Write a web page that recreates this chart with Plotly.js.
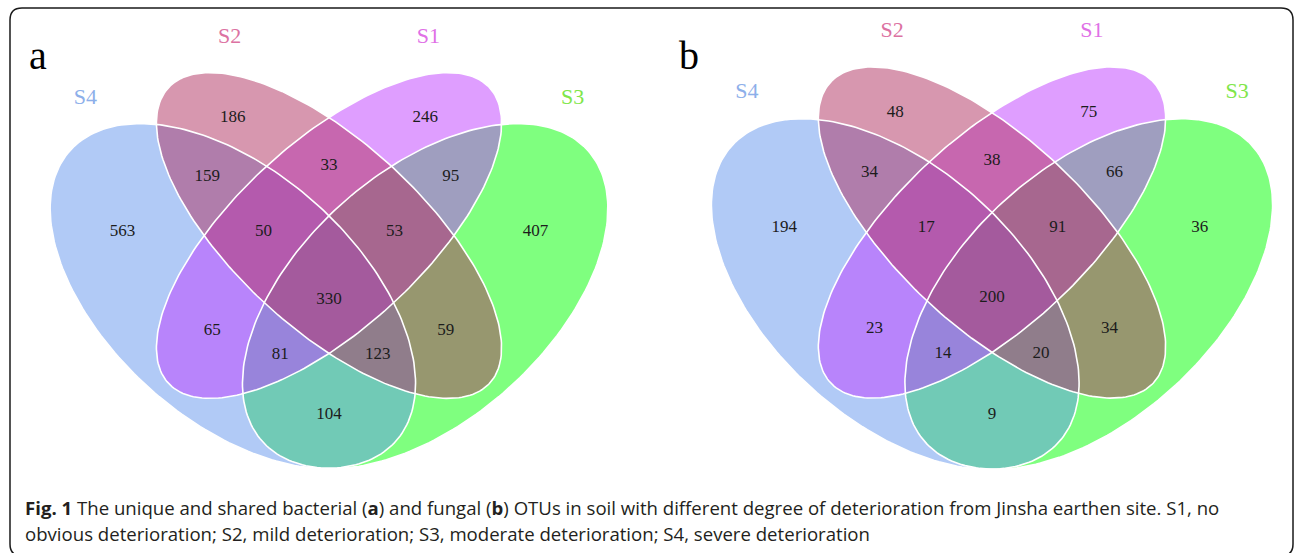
<!DOCTYPE html>
<html><head><meta charset="utf-8">
<script src="https://cdn.plot.ly/plotly-3.0.1.min.js"></script>
<style>html,body{margin:0;padding:0;background:#fff}</style>
</head><body><div id="chart" style="width:1295px;height:553px"></div>
<script>
// ---------- DATA ----------
const setNames = ["S1", "S2", "S3", "S4"];
const regionKeys = ["S2", "S1", "S2&S4", "S1&S2", "S1&S3", "S4", "S1&S2&S4", "S1&S2&S3",
                    "S3", "S1&S2&S3&S4", "S1&S4", "S2&S3", "S1&S3&S4", "S2&S3&S4", "S3&S4"];
const bacterialCounts = [186, 246, 159, 33, 95, 563, 50, 53, 407, 330, 65, 59, 81, 123, 104];
const fungalCounts    = [48, 75, 34, 38, 66, 194, 17, 91, 36, 200, 23, 34, 14, 20, 9];
const panelLetters = ["a", "b"];
const captionLine1 = "<b>Fig. 1</b> The unique and shared bacterial (<b>a</b>) and fungal (<b>b</b>) OTUs in soil with different degree of deterioration from Jinsha earthen site. S1, no";
const captionLine2 = "obvious deterioration; S2, mild deterioration; S3, moderate deterioration; S4, severe deterioration";

// ---------- LAYOUT CONSTANTS (standard 4-set Venn geometry, unit space) ----------
const W = 1295, H = 553;
const ellipses = { // drawing order: S3, S4, S1, S2
  S3: {cx: 0.65, cy: 0.47, a: 0.35, b: 0.20, rot: 45,  base: "0,255,0"},
  S4: {cx: 0.35, cy: 0.47, a: 0.35, b: 0.20, rot: 135, base: "100,149,237"},
  S1: {cx: 0.50, cy: 0.57, a: 0.35, b: 0.15, rot: 45,  base: "191,62,255"},
  S2: {cx: 0.50, cy: 0.57, a: 0.35, b: 0.15, rot: 135, base: "176,48,96"}
};
const drawOrder = ["S3", "S4", "S1", "S2"];
const labelPos = {
  "S2": [0.35, 0.765], "S1": [0.65, 0.765], "S2&S4": [0.31, 0.667], "S1&S2": [0.5, 0.686],
  "S1&S3": [0.69, 0.667], "S4": [0.178, 0.577], "S1&S2&S4": [0.398, 0.577], "S1&S2&S3": [0.602, 0.577],
  "S3": [0.822, 0.577], "S1&S2&S3&S4": [0.5, 0.464], "S1&S4": [0.318, 0.413], "S2&S3": [0.682, 0.413],
  "S1&S3&S4": [0.424, 0.373], "S2&S3&S4": [0.576, 0.373], "S3&S4": [0.5, 0.273]
};
const catPos = {S4: [0.12, 0.797], S2: [0.345, 0.897], S1: [0.655, 0.897], S3: [0.88, 0.797]};
const catColor = {S4: "#8DAFEA", S2: "#DC72A2", S1: "#E070E6", S3: "#80E64A"};

// pixel calibration for each panel: centre (unit 0.5, 0.57) in px, px per unit
const panels = [
  {cxPx: 329, cyPx: 235.5, sx: 641, sy: 605, dom: [0, 0.5]},
  {cxPx: 992, cyPx: 232.5, sx: 645, sy: 615, dom: [0.5, 1]}
];

function ellipsePts(e) {
  const xs = [], ys = [], th = e.rot * Math.PI / 180;
  for (let i = 0; i <= 240; i++) {
    const t = 2 * Math.PI * i / 240;
    xs.push(e.cx + e.a * Math.cos(th) * Math.cos(t) - e.b * Math.sin(th) * Math.sin(t));
    ys.push(e.cy + e.a * Math.sin(th) * Math.cos(t) + e.b * Math.cos(th) * Math.sin(t));
  }
  return [xs, ys];
}

const traces = [];
const layout = {
  width: W, height: H, margin: {l: 0, r: 0, t: 0, b: 0},
  paper_bgcolor: "#fff", plot_bgcolor: "rgba(0,0,0,0)", showlegend: false,
  annotations: [], shapes: []
};

const countsByPanel = [bacterialCounts, fungalCounts];
panels.forEach((p, k) => {
  const sfx = k === 0 ? "" : "2";
  const xa = "x" + sfx, ya = "y" + sfx;
  const domPx0 = p.dom[0] * W, domPx1 = p.dom[1] * W;
  const xr0 = 0.5 - (p.cxPx - domPx0) / p.sx;
  const xr1 = 0.5 + (domPx1 - p.cxPx) / p.sx;
  const yTop = 0.57 + p.cyPx / p.sy;
  const yBot = 0.57 - (H - p.cyPx) / p.sy;
  const axCommon = {visible: false, showgrid: false, zeroline: false, fixedrange: true};
  layout["xaxis" + sfx] = Object.assign({domain: p.dom, range: [xr0, xr1]}, axCommon, k ? {anchor: "y2"} : {});
  layout["yaxis" + sfx] = Object.assign({domain: [0, 1], range: [yBot, yTop]}, axCommon, k ? {anchor: "x2"} : {});

  drawOrder.forEach(s => {
    const [xs, ys] = ellipsePts(ellipses[s]);
    traces.push({type: "scatter", mode: "lines", x: xs, y: ys, xaxis: xa, yaxis: ya,
      fill: "toself", fillcolor: "rgba(" + ellipses[s].base + ",0.5)",
      line: {width: 0, color: "rgba(0,0,0,0)"}, hoverinfo: "skip"});
  });
  drawOrder.forEach(s => {
    const [xs, ys] = ellipsePts(ellipses[s]);
    traces.push({type: "scatter", mode: "lines", x: xs, y: ys, xaxis: xa, yaxis: ya,
      line: {width: 1.6, color: "#ffffff"}, hoverinfo: "skip"});
  });
  traces.push({type: "scatter", mode: "text", xaxis: xa, yaxis: ya,
    x: regionKeys.map(r => labelPos[r][0]), y: regionKeys.map(r => labelPos[r][1]),
    text: countsByPanel[k].map(String), textposition: "middle center",
    textfont: {family: "Liberation Serif, Times New Roman, serif", size: 17, color: "#1c1c1c"},
    hoverinfo: "skip"});
  const cats = ["S4", "S2", "S1", "S3"];
  traces.push({type: "scatter", mode: "text", xaxis: xa, yaxis: ya,
    x: cats.map(c => catPos[c][0]), y: cats.map(c => catPos[c][1]), text: cats,
    textposition: "middle center",
    textfont: {family: "Liberation Serif, Times New Roman, serif", size: 22, color: cats.map(c => catColor[c])},
    hoverinfo: "skip"});
});

// panel letters
const letterPx = [[38, 56], [689, 56]];
panelLetters.forEach((L, i) => {
  layout.annotations.push({xref: "paper", yref: "paper", x: letterPx[i][0] / W, y: 1 - letterPx[i][1] / H,
    xanchor: "center", yanchor: "middle", showarrow: false, text: L,
    font: {family: "Liberation Serif, Times New Roman, serif", size: 40, color: "#000"}});
});
// caption
[[captionLine1, 507], [captionLine2, 533]].forEach(([t, y]) => {
  layout.annotations.push({xref: "paper", yref: "paper", x: 23 / W, y: 1 - y / H,
    xanchor: "left", yanchor: "middle", align: "left", showarrow: false, text: t,
    font: {family: "Open Sans, Noto Sans, sans-serif", size: 18.6, color: "#231f20"}});
});
// rounded border
(function () {
  const x0 = 10, x1 = 1293, y0 = 8, y1 = 556, r = 12;
  const X = v => (v / W).toFixed(5), Y = v => (1 - v / H).toFixed(5);
  const d = `M ${X(x0 + r)} ${Y(y0)} L ${X(x1 - r)} ${Y(y0)} Q ${X(x1)} ${Y(y0)} ${X(x1)} ${Y(y0 + r)} ` +
            `L ${X(x1)} ${Y(y1 - r)} Q ${X(x1)} ${Y(y1)} ${X(x1 - r)} ${Y(y1)} ` +
            `L ${X(x0 + r)} ${Y(y1)} Q ${X(x0)} ${Y(y1)} ${X(x0)} ${Y(y1 - r)} ` +
            `L ${X(x0)} ${Y(y0 + r)} Q ${X(x0)} ${Y(y0)} ${X(x0 + r)} ${Y(y0)} Z`;
  layout.shapes.push({type: "path", xref: "paper", yref: "paper", path: d,
    line: {color: "#1a1a1a", width: 1.5}, fillcolor: "rgba(0,0,0,0)", layer: "above"});
})();

Plotly.newPlot("chart", traces, layout, {displayModeBar: false, staticPlot: true});
</script>
</body></html>
